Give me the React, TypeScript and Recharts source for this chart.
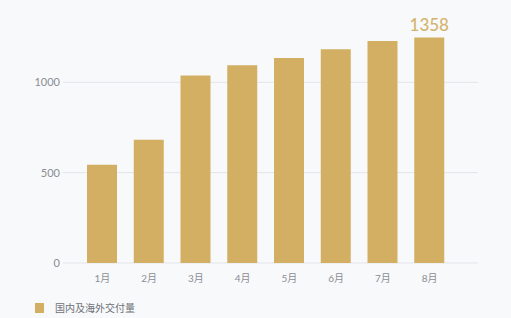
import { BarChart, Bar, XAxis, YAxis, CartesianGrid, LabelList } from 'recharts'

// monthly deliveries
const months = ['1月', '2月', '3月', '4月', '5月', '6月', '7月', '8月']
const deliveries = [543, 682, 1037, 1094, 1135, 1183, 1228, 1248]
const topLabels = ['', '', '', '', '', '', '', '1358']
const yTicks = [0, 500, 1000]

const SERIES_NAME = '国内及海外交付量'
const GOLD = '#d2af63'
const FONT = "Lato, 'Noto Sans CJK SC', sans-serif"

const data = months.map((m, i) => ({ month: m, value: deliveries[i], label: topLabels[i] }))

export default function App() {
  return (
    <div style={{ position: 'relative', width: 511, height: 318, background: '#f8f9fb', fontFamily: FONT }}>
      <style>{'body{margin:0;background:#f8f9fb}'}</style>
      <BarChart
        width={511}
        height={318}
        data={data}
        margin={{ top: 10, right: 33, left: 0, bottom: 25 }}
      >
        <CartesianGrid vertical={false} horizontalValues={yTicks} stroke="#e3e5e9" />
        <XAxis
          dataKey="month"
          height={30}
          padding={{ left: 16, right: 25 }}
          axisLine={false}
          tickLine={false}
          tickSize={0}
          tickMargin={12}
          tick={{ fill: '#8a8d93', fontSize: 10, fontFamily: FONT }}
        />
        <YAxis
          width={63}
          domain={[0, 1400]}
          ticks={yTicks}
          axisLine={false}
          tickLine={false}
          tickSize={0}
          tickMargin={3}
          tick={{ fill: '#8a8d93', fontSize: 11, fontFamily: FONT }}
        />
        <Bar dataKey="value" name={SERIES_NAME} fill={GOLD} barSize={30} isAnimationActive={false}>
          <LabelList
            dataKey="label"
            position="top"
            offset={6}
            fill="#d4b36c"
            fontSize={17}
            fontWeight={500}
            fontFamily={FONT}
          />
        </Bar>
      </BarChart>
      <div style={{ position: 'absolute', left: 35, top: 300, display: 'flex', alignItems: 'center' }}>
        <span style={{ width: 9, height: 10, background: GOLD, display: 'inline-block', marginRight: 11 }} />
        <span style={{ fontSize: 10, color: '#6e7177' }}>{SERIES_NAME}</span>
      </div>
    </div>
  )
}
